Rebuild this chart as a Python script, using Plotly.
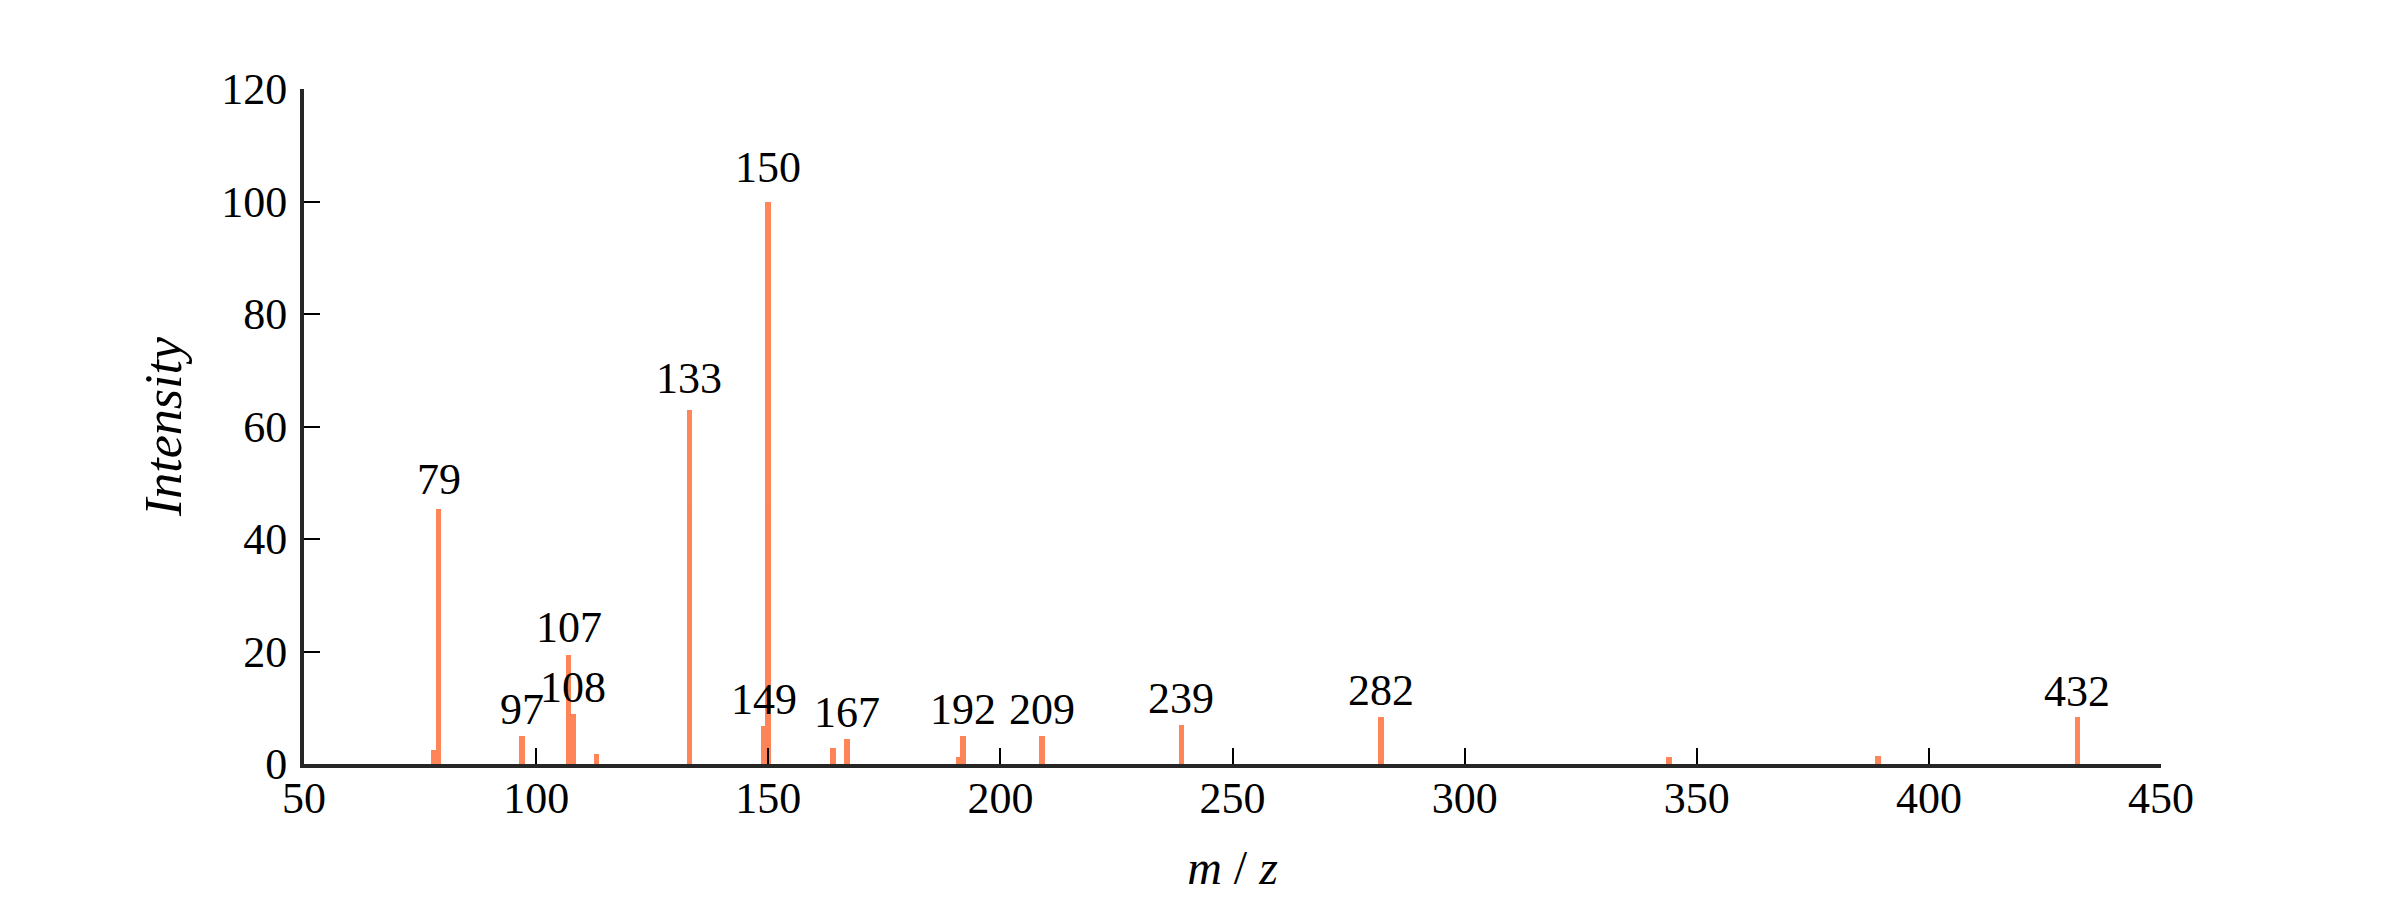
import plotly.graph_objects as go

# m/z peaks and their relative intensities
mz = [78, 79, 97, 107, 108, 113, 133, 149, 150, 164, 167, 191, 192, 209, 239, 282, 344, 389, 432]
intensity = [2.5, 45.3, 5.0, 19.4, 8.9, 1.8, 63.0, 6.8, 100.0, 2.9, 4.5, 1.3, 5.0, 5.0, 7.0, 8.4, 1.3, 1.5, 8.3]

# peaks that carry a text label
label_mz = [79, 97, 107, 108, 133, 149, 150, 167, 192, 209, 239, 282, 432]

x_ticks = [50, 100, 150, 200, 250, 300, 350, 400, 450]
y_ticks = [0, 20, 40, 60, 80, 100, 120]

FONT = "Liberation Serif"
FS = 44
BAR_COLOR = "#FF7F50"

fig = go.Figure()
fig.add_trace(go.Bar(
    x=mz, y=intensity, width=1.2,
    marker=dict(color=BAR_COLOR, line=dict(width=0)),
    opacity=0.95,
    showlegend=False,
))

lookup = dict(zip(mz, intensity))
for m in label_mz:
    v = lookup[m]
    fig.add_annotation(
        x=m, y=v, xref="x", yref="y", text=str(m), showarrow=False,
        yanchor="bottom", xanchor="center",
        yshift=-1 + 0.09 * v,
        font=dict(family=FONT, size=FS, color="black"),
    )

axis_common = dict(
    showgrid=False, zeroline=False, showline=True,
    linecolor="#262626", linewidth=4, mirror=False,
    ticks="inside", ticklen=16, tickwidth=2, tickcolor="black",
    tickfont=dict(family=FONT, size=FS, color="black"),
)

fig.update_layout(
    width=2400, height=900, autosize=False,
    margin=dict(l=296, r=247, t=81, b=144, pad=0),
    paper_bgcolor="white", plot_bgcolor="white",
    bargap=0,
    xaxis=dict(range=[50, 450], tickmode="array", tickvals=x_ticks,
               ticktext=[str(t) for t in x_ticks],
               ticklabelstandoff=-8,
               title=dict(text="<i>m</i> / <i>z</i>", font=dict(family=FONT, size=48, color="black"), standoff=30),
               **axis_common),
    yaxis=dict(range=[0, 120], tickmode="array", tickvals=y_ticks,
               ticktext=[str(t) for t in y_ticks],
               ticklabelstandoff=4,
               title=dict(text="<i>Intensity</i>", font=dict(family=FONT, size=52, color="black"), standoff=24),
               **axis_common),
)

fig.write_html("out.html")
